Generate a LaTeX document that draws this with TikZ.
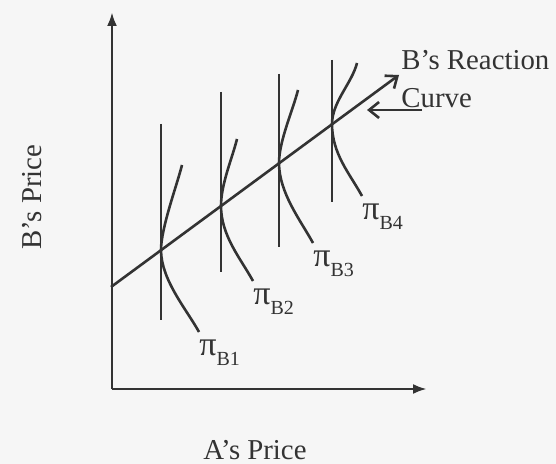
\documentclass[tikz,border=0pt]{standalone}
\usepackage{fontspec}
\setmainfont{Liberation Serif}
\usetikzlibrary{arrows.meta}
\definecolor{ink}{gray}{0.2}
\definecolor{paper}{gray}{0.965}
% iso-profit label pi_B#1
\newcommand{\isoprofit}[1]{{\fontsize{17}{17}\selectfont π}\raisebox{-5pt}{\fontsize{10}{10}\selectfont B#1}}
\tikzset{
  axis/.style={draw=ink, line width=1.4pt, -{Latex[length=7pt,width=5pt]}},
  level/.style={draw=ink, line width=1.3pt},
  reaction/.style={draw=ink, line width=1.3pt, -{Straight Barb[length=5pt,width=8pt]}},
  lbl/.style={text=ink, inner sep=0pt, font=\fontsize{14.4}{19}\selectfont},
}
\begin{document}
\begin{tikzpicture}[x=0.5pt,y=-0.5pt]
\fill[paper] (0,0) rectangle (556,464);
\useasboundingbox (0,0) rectangle (556,464);
% axes
\coordinate (O) at (112,389);
\coordinate (ytop) at (112,12);
\coordinate (xend) at (427,389);
\draw[axis] (O) -- (ytop);
\draw[axis] (O) -- (xend);
\node[lbl] (xlabel) at (255,450) {A’s Price};
\node[lbl, rotate=90] (ylabel) at (32,197) {B’s Price};
% B's reaction curve
\coordinate (r0) at (111,287);
\coordinate (r1) at (399,75);
\draw[reaction] (r0) -- (r1);
\node[lbl, anchor=west, align=left] (rcurve) at (401,79) {B’s Reaction\\Curve};
\coordinate (ptail) at (422,110);
\coordinate (phead) at (367,110);
\draw[reaction] (ptail) -- (phead);
% verticals and iso-profit curves
\foreach \i/\x/\vt/\vb/\py/\tx/\ty/\bx/\by in {
  1/161/124/320/250/182/165/199/332,
  2/221/92/272/206/237/139/253/281,
  3/279/74/247/163/298/90/313/243,
  4/332/60/202/124/357/63/362/196}{
  \coordinate (v\i top) at (\x,\vt);
  \coordinate (v\i bot) at (\x,\vb);
  \coordinate (p\i) at (\x,\py);
  \coordinate (t\i) at (\tx,\ty);
  \coordinate (b\i) at (\bx,\by);
  \draw[level] (v\i top) -- (v\i bot);
  \draw[level] (t\i) .. controls +(-5,20) and +(0,-22) .. (p\i)
    .. controls +(0,30) and +(-12,-22) .. (b\i);
  \node[lbl, anchor=north west] (pi\i) at ([shift={(0,7)}]b\i) {\isoprofit{\i}};
}
\end{tikzpicture}
\end{document}
